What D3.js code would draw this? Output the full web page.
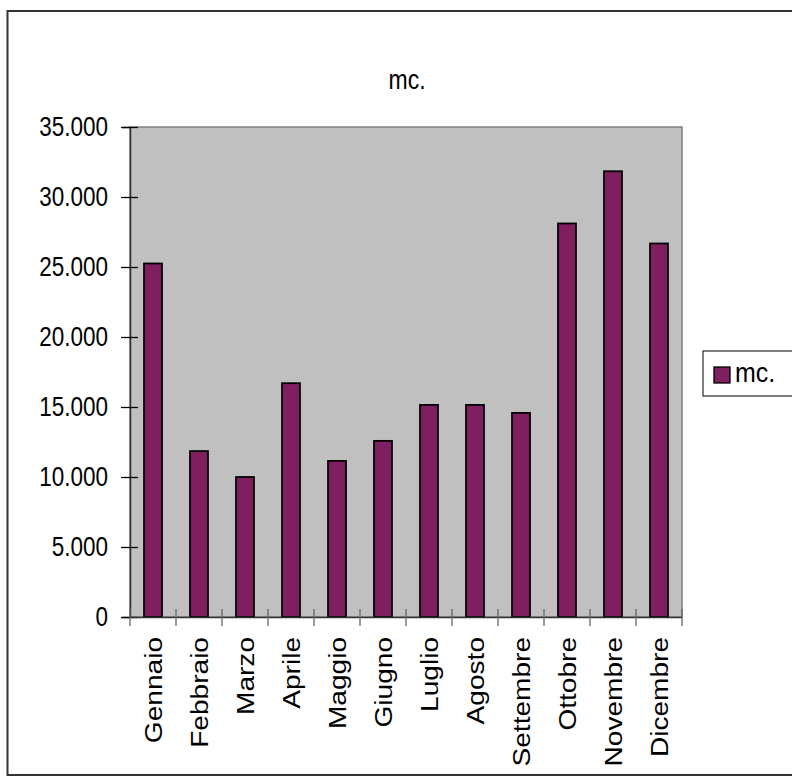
<!DOCTYPE html>
<html>
<head>
<meta charset="utf-8">
<script src="https://cdn.jsdelivr.net/npm/d3@7"></script>
<style>
  html, body { margin: 0; padding: 0; background: #fff; }
  text { font-family: "Liberation Sans", Arial, sans-serif; fill: #000; }
</style>
</head>
<body>
<div id="chart"></div>
<script>
// monthly volumes (mc.)
const months = ['Gennaio', 'Febbraio', 'Marzo', 'Aprile', 'Maggio', 'Giugno',
    'Luglio', 'Agosto', 'Settembre', 'Ottobre', 'Novembre', 'Dicembre'];
const values = [25250, 11850, 10000, 16700, 11150, 12580,
    15150, 15150, 14580, 28110, 31840, 26680];
const yTicks = [0, 5000, 10000, 15000, 20000, 25000, 30000, 35000];
const seriesName = 'mc.';

const W = 792, H = 776;
const plot = { left: 130, top: 127, right: 682, bottom: 617 };
const barColor = '#7f1f5f';

const svg = d3.select('#chart').append('svg')
    .attr('width', W)
    .attr('height', H);

// outer frame
svg.append('rect')
    .attr('x', 7.5).attr('y', 11)
    .attr('width', W).attr('height', 764)
    .attr('fill', 'none')
    .attr('stroke', '#333')
    .attr('stroke-width', 2);

// title
svg.append('text')
    .attr('transform', 'translate(407,89) scale(1,1.18)')
    .attr('text-anchor', 'middle')
    .style('font-size', '23px')
    .text(seriesName);

// ── Scales ───────────────────────────────────────
const x = d3.scaleBand()
    .domain(months)
    .range([plot.left, plot.right])
    .paddingInner(0.61)
    .paddingOuter(0.305);

const xBands = d3.scaleBand()
    .domain(months)
    .range([plot.left, plot.right]);

const y = d3.scaleLinear()
    .domain([0, 35000])
    .range([plot.bottom, plot.top]);

// plot area
svg.append('rect')
    .attr('x', plot.left).attr('y', plot.top)
    .attr('width', plot.right - plot.left)
    .attr('height', plot.bottom - plot.top)
    .attr('fill', '#c0c0c0')
    .attr('stroke', '#808080')
    .attr('stroke-width', 1.5);

// bars
svg.append('g')
    .selectAll('rect')
    .data(months.map((m, i) => ({ m, v: values[i] })))
    .join('rect')
    .attr('x', d => x(d.m))
    .attr('y', d => y(d.v))
    .attr('width', x.bandwidth())
    .attr('height', d => y(0) - y(d.v))
    .attr('fill', barColor)
    .attr('stroke', '#000')
    .attr('stroke-width', 1.8);

// ── Axes ─────────────────────────────────────────
const fmt = v => d3.format(',')(v).replace(/,/g, '.');

const yAxis = svg.append('g')
    .attr('transform', `translate(${plot.left},0)`)
    .call(d3.axisLeft(y).tickValues(yTicks).tickSize(8).tickFormat(''));
yAxis.select('.domain').attr('stroke', '#333').attr('stroke-width', 1.5);
yAxis.selectAll('.tick line').attr('x2', -9).attr('x1', 8).attr('stroke', '#000').attr('stroke-width', 1.3);

svg.append('g')
    .selectAll('text')
    .data(yTicks)
    .join('text')
    .attr('transform', d => `translate(108,${y(d) + 9}) scale(1,1.2)`)
    .attr('text-anchor', 'end')
    .style('font-size', '22.5px')
    .text(fmt);

const xAxis = svg.append('g')
    .attr('transform', `translate(0,${plot.bottom})`)
    .call(d3.axisBottom(xBands).tickSize(0).tickFormat(''));
xAxis.select('.domain').attr('stroke', '#333').attr('stroke-width', 1.5);
xAxis.selectAll('.tick').remove();

// crossing ticks at band boundaries
const bounds = months.map(m => xBands(m)).concat([plot.right]);
svg.append('g')
    .selectAll('line')
    .data(bounds)
    .join('line')
    .attr('x1', d => d).attr('x2', d => d)
    .attr('y1', plot.bottom - 8).attr('y2', plot.bottom + 9)
    .attr('stroke', '#666')
    .attr('stroke-width', 1.3);

// rotated month labels
svg.append('g')
    .selectAll('text')
    .data(months)
    .join('text')
    .attr('transform', d => `translate(${xBands(d) + xBands.bandwidth() / 2 + 8.5},637) scale(1,1.17) rotate(-90)`)
    .attr('text-anchor', 'end')
    .style('font-size', '24px')
    .text(d => d);

// ── Legend ───────────────────────────────────────
const lg = svg.append('g');
lg.append('rect')
    .attr('x', 703).attr('y', 351)
    .attr('width', 120).attr('height', 45)
    .attr('fill', '#fff')
    .attr('stroke', '#000')
    .attr('stroke-width', 1);
lg.append('rect')
    .attr('x', 714).attr('y', 367)
    .attr('width', 16).attr('height', 16)
    .attr('fill', barColor)
    .attr('stroke', '#000')
    .attr('stroke-width', 1.3);
lg.append('text')
    .attr('transform', 'translate(735,382) scale(1,1.12)')
    .style('font-size', '25px')
    .text(seriesName);
</script>
</body>
</html>
